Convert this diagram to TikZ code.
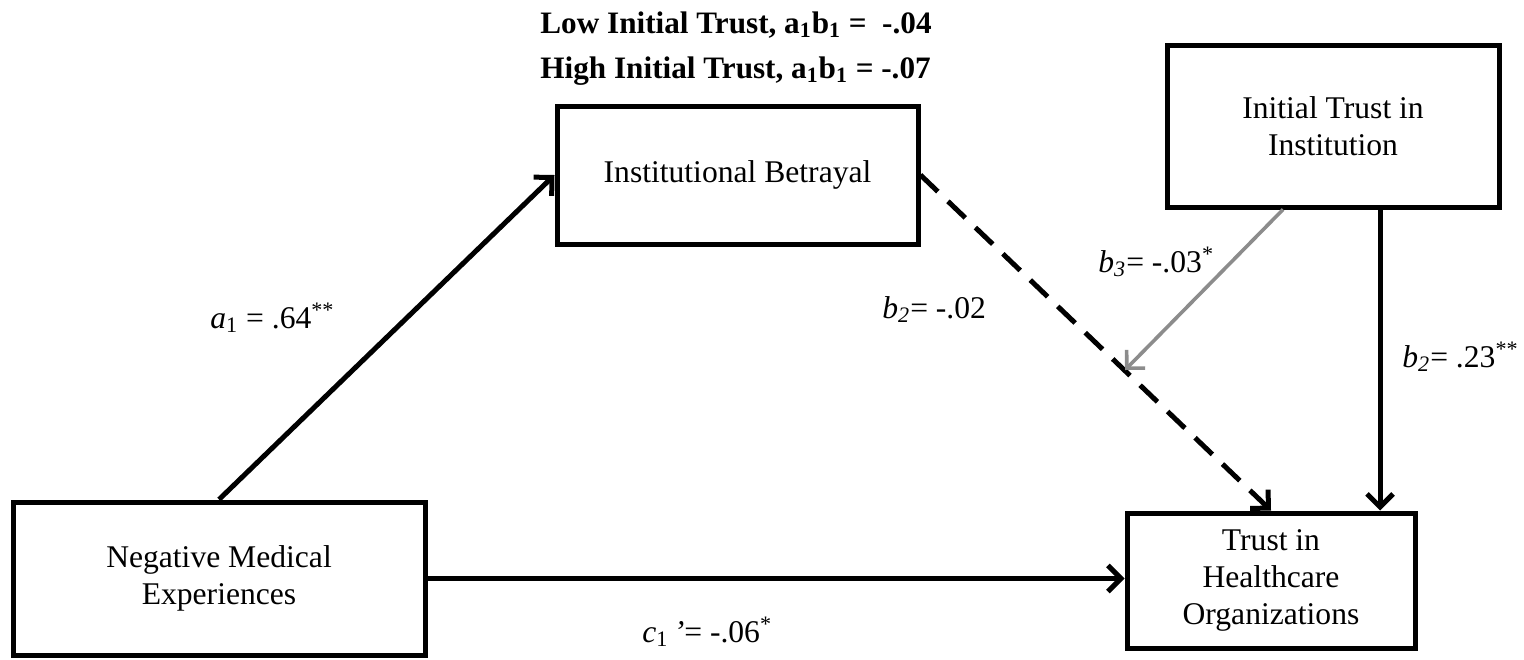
\documentclass[tikz,border=0pt]{standalone}
\usepackage{fontspec}
\setmainfont{Liberation Serif}
\usetikzlibrary{arrows.meta,calc}
\begin{document}
\begin{tikzpicture}[x=0.5pt,y=-0.5pt,
  box/.style={draw,line width=2.5pt,align=center,inner sep=0pt,font=\fontsize{15.8}{18.5}\selectfont},
  arr/.style={line width=2.5pt,-{Straight Barb[length=6.5pt,width=13pt]}},
  garr/.style={line width=1.8pt,draw={rgb,255:red,140;green,140;blue,140},-{Straight Barb[length=6.5pt,width=13pt]}},
  dasharr/.style={arr,dash pattern=on 12pt off 7pt},
  lbl/.style={anchor=base west,inner sep=0pt,font=\fontsize{15.8}{18}\selectfont},
  head/.style={anchor=base west,inner sep=0pt,font=\fontsize{15.6}{18}\selectfont\bfseries}]
\useasboundingbox (0,0) rectangle (1524,659);
\node[box,minimum width=180.5pt,minimum height=69pt] (IB) at (737.5,175) {Institutional Betrayal};
\node[box,minimum width=166pt,minimum height=81pt] (ITI) at (1333,126) {Initial Trust in\\Institution};
\node[box,minimum width=206pt,minimum height=76.5pt] (NME) at (219,578.5) {Negative Medical\\Experiences};
\node[box,minimum width=144pt,minimum height=67.5pt] (THO) at (1271,580.5) {\raisebox{-2pt}{\begin{tabular}{@{}c@{}}Trust in\\Healthcare\\Organizations\end{tabular}}};
\node[head] (hlow) at (540,33) {Low Initial Trust, a\textsubscript{1}b\textsubscript{1} =~ -.04};
\node[head] (hhigh) at (540,78) {High Initial Trust, a\textsubscript{1}b\textsubscript{1} = -.07};
\coordinate (v) at (1380,0);
\coordinate (mod) at (1125,370);
\draw[arr] (NME.north) -- (IB.west);
\draw[dasharr] (IB.east) -- (THO.north);
\draw[arr] (ITI.south -| v) -- (THO.north -| v);
\draw[garr] ([xshift=-25pt]ITI.south) -- (mod);
\draw[arr] (NME.east) -- (NME.east -| THO.west);
\node[lbl] (la) at (210,328) {\textit{a}\textsubscript{1} = .64\textsuperscript{**}};
\node[lbl] (lb2) at (882,318) {\textit{b\textsubscript{2}}= -.02};
\node[lbl] (lb3) at (1098,272) {\textit{b\textsubscript{3}}= -.03\textsuperscript{*}};
\node[lbl] (lb2b) at (1402,367) {\textit{b\textsubscript{2}}= .23\textsuperscript{**}};
\node[lbl] (lc) at (642,642) {\textit{c}\textsubscript{1}\,\textit{’}= -.06\textsuperscript{*}};
\end{tikzpicture}
\end{document}
